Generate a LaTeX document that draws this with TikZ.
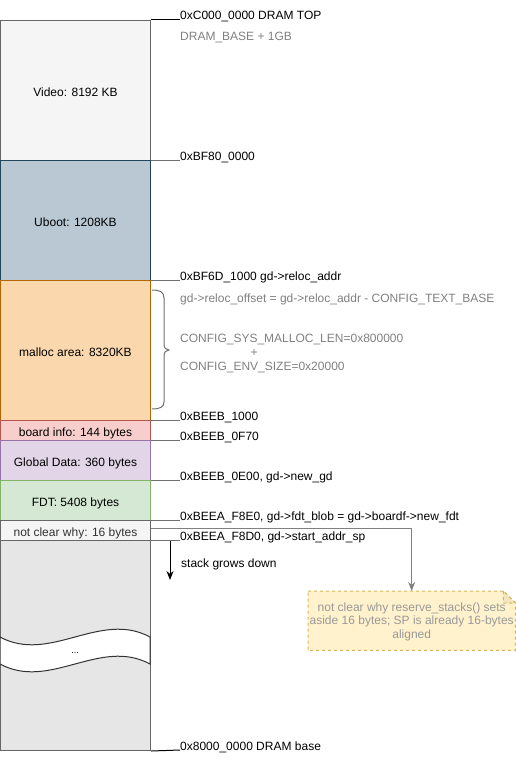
\documentclass[tikz,border=0pt]{standalone}
\usepackage{fontspec}
\setmainfont{Liberation Sans}
\usetikzlibrary{arrows.meta}
\definecolor{vidFill}{HTML}{F5F5F5}
\definecolor{vidLine}{HTML}{666666}
\definecolor{ubFill}{HTML}{BAC8D3}
\definecolor{ubLine}{HTML}{23445D}
\definecolor{maFill}{HTML}{FAD7AC}
\definecolor{maLine}{HTML}{B46504}
\definecolor{biFill}{HTML}{F8CECC}
\definecolor{biLine}{HTML}{B85450}
\definecolor{gdFill}{HTML}{E1D5E7}
\definecolor{gdLine}{HTML}{9673A6}
\definecolor{fdFill}{HTML}{D5E8D4}
\definecolor{fdLine}{HTML}{82B366}
\definecolor{stFill}{HTML}{E6E6E6}
\definecolor{noteFill}{HTML}{FFF2CC}
\definecolor{noteLine}{HTML}{D6B656}
\definecolor{noteFold}{HTML}{F2E4BD}
\definecolor{grayTxt}{HTML}{808080}
\definecolor{noteTxt}{HTML}{999999}
\definecolor{tickGray}{HTML}{707070}
\definecolor{darkTxt}{HTML}{333333}
\begin{document}
\begin{tikzpicture}[x=1pt,y=-1pt,
  font=\fontsize{12pt}{14pt}\selectfont,
  blk/.style={rectangle, draw, line width=1pt, minimum width=150pt, inner sep=0pt, anchor=north west, text=black, text height=11.6pt, text depth=0pt},
  lbl/.style={anchor=base west, inner sep=0pt, text=black},
  glbl/.style={anchor=base west, inner sep=0pt, text=grayTxt},
  tick/.style={line width=1pt, draw=tickGray},
]
\useasboundingbox (0,0) rectangle (515,760);

% memory blocks
\node[blk, fill=vidFill, draw=vidLine, minimum height=140pt] (video) at (0,20) {Video: 8192 KB};
\node[blk, fill=ubFill, draw=ubLine, minimum height=120pt] (uboot) at (0,160) {Uboot: 1208KB};
\node[blk, fill=maFill, draw=maLine, minimum height=140pt] (malloc) at (0,280) {malloc area: 8320KB};
\node[blk, fill=biFill, draw=biLine, minimum height=20pt] (board) at (0,420) {board info: 144 bytes};
\node[blk, fill=gdFill, draw=gdLine, minimum height=40pt] (gdata) at (0,440) {Global Data: 360 bytes};
\node[blk, fill=fdFill, draw=fdLine, minimum height=40pt] (fdt) at (0,480) {FDT: 5408 bytes};
\node[blk, fill=vidFill, draw=vidLine, minimum height=20pt, text=darkTxt] (nclear) at (0,520) {not clear why: 16 bytes};
\node[blk, fill=stFill, draw=vidLine, minimum height=210pt] (stack) at (0,540) {};

% cut band in the stack
\path[fill=white, draw=darkTxt, line width=1pt]
  (0,637) .. controls (50,664) and (100,610) .. (150,637)
  -- (150,664) .. controls (100,637) and (50,691) .. (0,664) -- cycle;
\node[inner sep=0pt, font=\fontsize{9pt}{10pt}\selectfont] (dots) at (75,653) {...};

% address labels
\node[lbl] (lTop) at (180,20) {0xC000\_0000 DRAM TOP};
\node[glbl] (lBase) at (180,41) {DRAM\_BASE + 1GB};
\node[lbl] (lBF80) at (180,160) {0xBF80\_0000};
\node[lbl] (lBF6D) at (180,280) {0xBF6D\_1000 gd->reloc\_addr};
\node[glbl] (lOff) at (180,302.5) {gd->reloc\_offset = gd->reloc\_addr - CONFIG\_TEXT\_BASE};
\node[glbl] (lMal) at (180,342.5) {CONFIG\_SYS\_MALLOC\_LEN=0x800000};
\node[glbl] (lPlus) at (250.5,356.5) {+};
\node[glbl] (lEnv) at (180,370.5) {CONFIG\_ENV\_SIZE=0x20000};
\node[lbl] (lB1000) at (180,420) {0xBEEB\_1000};
\node[lbl] (lB0F70) at (180,440) {0xBEEB\_0F70};
\node[lbl] (lB0E00) at (180,480) {0xBEEB\_0E00, gd->new\_gd};
\node[lbl] (lF8E0) at (180,520) {0xBEEA\_F8E0, gd->fdt\_blob = gd->boardf->new\_fdt};
\node[lbl] (lF8D0) at (180,540) {0xBEEA\_F8D0, gd->start\_addr\_sp};
\node[lbl] (lSG) at (181,567) {stack grows down};
\node[lbl] (lBot) at (180,750) {0x8000\_0000 DRAM base};

% tick lines
\draw[line width=1pt, black] (video.north east) -- (lTop.base west);
\draw[tick] (uboot.north east) -- (lBF80.base west);
\draw[tick] (malloc.north east) -- (lBF6D.base west);
\draw[tick] (board.north east) -- (lB1000.base west);
\draw[tick] (gdata.north east) -- (lB0F70.base west);
\draw[tick] (fdt.north east) -- (lB0E00.base west);
\draw[tick] (nclear.north east) -- (lF8E0.base west);
\draw[tick] (stack.north east) -- (lF8D0.base west);
\draw[line width=1pt, black] (stack.south east) -- (lBot.base west);

% brace
\draw[line width=1pt, draw=tickGray]
  (152,290) .. controls (160,290) and (164,292) .. (164,298) -- (164,344)
  .. controls (164,348) and (166,350) .. (169,350)
  .. controls (166,350) and (164,352) .. (164,356) -- (164,402)
  .. controls (164,407) and (160,409) .. (152,409);

% stack grows down arrow
\coordinate (sgTop) at (170,541);
\coordinate (sgEnd) at (170,580);
\draw[line width=1pt, black, -{Stealth[length=9pt, width=7pt]}] (sgTop) -- (sgEnd);

% note
\node[minimum width=207pt, minimum height=59pt, inner sep=0pt, anchor=north west] (note) at (308,591) {};
\path[fill=noteFill, draw=noteLine, dashed, line width=1pt]
  (note.north west) -- ([xshift=-12pt]note.north east) -- ([yshift=-12pt]note.north east)
  -- (note.south east) -- (note.south west) -- cycle;
\path[fill=noteFold, draw=noteLine, dashed, line width=1pt]
  ([xshift=-12pt]note.north east) -- ([xshift=-12pt, yshift=-12pt]note.north east) -- ([yshift=-12pt]note.north east) -- cycle;
\node[align=center, inner sep=0pt, text=noteTxt, font=\fontsize{12pt}{13.6pt}\selectfont] (noteText) at ([yshift=-1pt]note.center)
  {not clear why reserve\_stacks() sets\\aside 16 bytes; SP is already 16-bytes\\aligned};

% connector to note
\draw[line width=1pt, draw=grayTxt, -{Stealth[length=9pt, width=7pt]}] ([yshift=2pt]nclear.east) -| (note.north);
\end{tikzpicture}
\end{document}
